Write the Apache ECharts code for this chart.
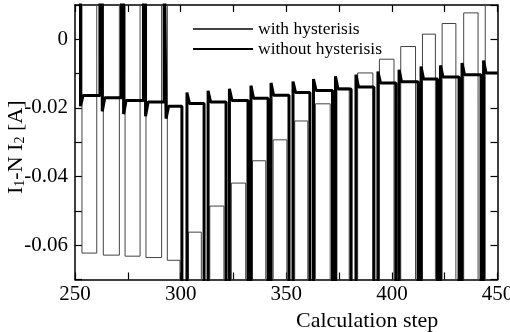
<!DOCTYPE html>
<html>
<head>
<meta charset="utf-8">
<script src="https://cdn.jsdelivr.net/npm/echarts@6/dist/echarts.min.js"></script>
<style>
  html, body { margin: 0; padding: 0; background: #fff; }
  #chart { width: 510px; height: 332px; }
</style>
</head>
<body>
<div id="chart"></div>
<script>
var myChart = echarts.init(document.getElementById('chart'));

// values (calculation step / current in A)
var TOP = 0.03;   // off-scale high
var BOT = -0.09;  // off-scale low

// steps 250-300: pulses go up (off the top)
var thickFall250 = [252.6, 262.9, 273.0, 283.4, 293.1];
var thickRise250 = [261.8, 272.0, 282.4, 292.2];
var thickLevel250 = [-0.0164, -0.0170, -0.0178, -0.0183, -0.0195];
var thickTrough250 = [-0.0195, -0.0210, -0.0218, -0.0224, -0.0231];

var thinFall250 = [253.3, 263.4, 273.7, 283.6, 293.7];
var thinRise250 = [260.3, 271.0, 280.8, 291.0];
var thinLevel250 = [-0.0623, -0.0629, -0.0632, -0.0636, -0.0644];

// steps 300-450: pulses go down (off the bottom)
var thickFall300 = [300.6, 311.1, 321.5, 331.9, 341.4, 351.3, 361.2, 371.9, 380.7, 391.5, 401.9, 412.4, 421.6, 431.8, 442.2];
var thickRise300 = [303.0, 313.0, 323.1, 333.3, 342.8, 353.2, 362.9, 373.3, 383.0, 393.4, 403.4, 413.8, 423.0, 433.2, 443.4];
var thickLevel300 = [-0.0187, -0.0183, -0.0178, -0.0172, -0.0163, -0.0155, -0.0149, -0.0145, -0.0139, -0.0127, -0.0124, -0.0116, -0.0110, -0.0103, -0.0098];
var thickPeak300 = [-0.0155, -0.0150, -0.0144, -0.0135, -0.0127, -0.0123, -0.0116, -0.0108, -0.0103, -0.0094, -0.0089, -0.0079, -0.0076, -0.0069, -0.0062];

var thinFall300 = [299.7, 309.8, 320.5, 330.8, 340.3, 350.3, 360.2, 370.8, 379.8, 391.0, 401.0, 411.2, 420.6, 430.3, 440.8];
var thinRise300 = [303.7, 313.8, 324.0, 334.0, 343.8, 354.0, 363.8, 374.0, 383.8, 394.1, 404.2, 414.5, 423.8, 434.0, 444.2];
var thinLevel300 = [-0.0562, -0.0486, -0.0419, -0.0354, -0.0293, -0.0238, -0.0188, -0.0142, -0.0098, -0.0058, -0.0021, 0.0015, 0.0046, 0.0077, 0.0110];

var xTicks = [250, 300, 350, 400, 450];
var yTicks = [-0.06, -0.04, -0.02, 0];

function thickData() {
  var pts = [[250, TOP]];
  for (var i = 0; i < thickFall250.length; i++) {
    var f = thickFall250[i];
    pts.push([f, TOP], [f, thickTrough250[i]], [f + 1.2, thickLevel250[i]]);
    if (i < thickRise250.length) {
      pts.push([thickRise250[i], thickLevel250[i]], [thickRise250[i], TOP]);
    }
  }
  for (var j = 0; j < thickFall300.length; j++) {
    var prev = j === 0 ? thickLevel250[thickLevel250.length - 1] : thickLevel300[j - 1];
    var r = thickRise300[j];
    pts.push([thickFall300[j], prev], [thickFall300[j], BOT]);
    pts.push([r, BOT], [r, thickPeak300[j]], [r + 1.2, thickLevel300[j]]);
  }
  pts.push([450, thickLevel300[thickLevel300.length - 1]]);
  return pts;
}

function thinData() {
  var pts = [[250, TOP]];
  for (var i = 0; i < thinFall250.length; i++) {
    pts.push([thinFall250[i], TOP], [thinFall250[i], thinLevel250[i]]);
    if (i < thinRise250.length) {
      pts.push([thinRise250[i], thinLevel250[i]], [thinRise250[i], TOP]);
    }
  }
  for (var j = 0; j < thinFall300.length; j++) {
    var prev = j === 0 ? thinLevel250[thinLevel250.length - 1] : thinLevel300[j - 1];
    pts.push([thinFall300[j], prev], [thinFall300[j], BOT]);
    pts.push([thinRise300[j], BOT], [thinRise300[j], thinLevel300[j]]);
  }
  pts.push([450, thinLevel300[thinLevel300.length - 1]]);
  return pts;
}

var FONT = 'Liberation Serif';

function xAxisOpt(pos, labels) {
  return {
    type: 'value', position: pos, min: 250, max: 450, interval: 25,
    axisLine: { show: true, onZero: false, lineStyle: { color: '#000', width: 1.5 } },
    axisTick: { show: true, inside: true, length: 7, lineStyle: { color: '#000', width: 1.2 } },
    axisLabel: {
      show: labels, color: '#000', fontFamily: FONT, fontSize: 21, margin: 4,
      formatter: function (v) { return xTicks.indexOf(Math.round(v)) >= 0 ? String(Math.round(v)) : ''; }
    },
    splitLine: { show: false }
  };
}

function yAxisOpt(pos, labels) {
  return {
    type: 'value', position: pos, min: -0.07, max: 0.01, interval: 0.01,
    axisLine: { show: true, onZero: false, lineStyle: { color: '#000', width: 1.5 } },
    axisTick: { show: true, inside: true, length: 7, lineStyle: { color: '#000', width: 1.2 } },
    axisLabel: {
      show: labels, color: '#000', fontFamily: FONT, fontSize: 21, margin: 7,
      formatter: function (v) {
        var k = Math.round(v * 100);
        for (var i = 0; i < yTicks.length; i++) {
          if (Math.round(yTicks[i] * 100) === k) return k === 0 ? '0' : (k / 100).toFixed(2);
        }
        return '';
      }
    },
    splitLine: { show: false }
  };
}

var yLeft = yAxisOpt('left', true);
yLeft.name = '{n|I}{s|1}{n|-N I}{s|2}{n| [A]}';
yLeft.nameLocation = 'middle';
yLeft.nameGap = 48;
yLeft.nameMoveOverlap = false;
yLeft.nameTextStyle = {
  padding: [0, 10, 0, 0],
  rich: {
    n: { fontFamily: FONT, fontSize: 22, color: '#000', lineHeight: 26, verticalAlign: 'bottom' },
    s: { fontFamily: FONT, fontSize: 14, color: '#000', lineHeight: 14, verticalAlign: 'bottom' }
  }
};

var option = {
  animation: false,
  backgroundColor: '#fff',
  grid: { left: 75, right: 12.5, top: 5, bottom: 52.5, containLabel: false, outerBoundsMode: 'none' },
  xAxis: [xAxisOpt('bottom', true), xAxisOpt('top', false)],
  yAxis: [yLeft, yAxisOpt('right', false)],
  legend: {
    orient: 'vertical', left: 187, top: 15, itemWidth: 60, itemHeight: 14, itemGap: 2,
    itemStyle: { opacity: 0 },
    textStyle: { fontFamily: FONT, fontSize: 17.5, lineHeight: 18, color: '#000' },
    data: ['with hysterisis', 'without hysterisis']
  },
  graphic: [{
    type: 'text', left: 296, top: 310,
    style: { text: 'Calculation step', font: '22px "Liberation Serif"', fill: '#000' }
  }],
  series: [
    {
      name: 'with hysterisis', type: 'line', xAxisIndex: 0, yAxisIndex: 0,
      showSymbol: false, symbol: 'none', clip: true,
      lineStyle: { color: '#444', width: 1 }, itemStyle: { color: '#444' },
      data: thinData()
    },
    {
      name: 'without hysterisis', type: 'line', xAxisIndex: 0, yAxisIndex: 0,
      showSymbol: false, symbol: 'none', clip: true,
      lineStyle: { color: '#000', width: 3 }, itemStyle: { color: '#000' },
      data: thickData()
    }
  ]
};

myChart.setOption(option);
</script>
</body>
</html>
